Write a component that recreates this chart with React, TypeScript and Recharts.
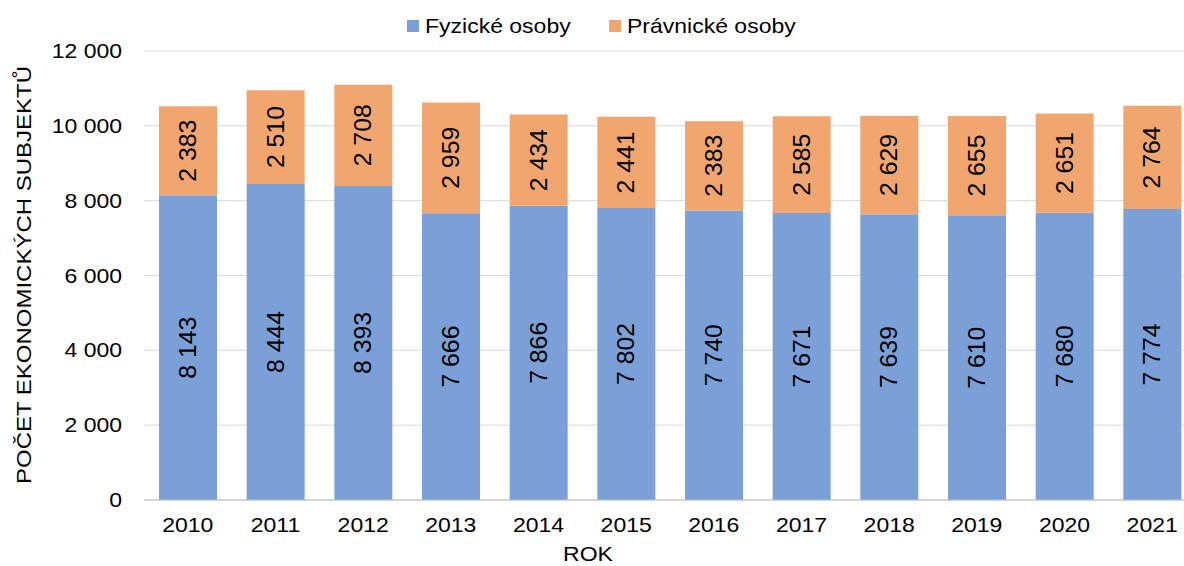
import { BarChart, Bar, XAxis, YAxis, CartesianGrid, Legend, LabelList } from "recharts"

const years = ["2010", "2011", "2012", "2013", "2014", "2015", "2016", "2017", "2018", "2019", "2020", "2021"]
const fyzicke = [8143, 8444, 8393, 7666, 7866, 7802, 7740, 7671, 7639, 7610, 7680, 7774]
const pravnicke = [2383, 2510, 2708, 2959, 2434, 2441, 2383, 2585, 2629, 2655, 2651, 2764]
const yTicks = [0, 2000, 4000, 6000, 8000, 10000, 12000]

const rows = years.map((rok, i) => ({ rok, fyzicke: fyzicke[i], pravnicke: pravnicke[i] }))

const BLUE = "#7B9FD7"
const ORANGE = "#F1A670"
const FONT = "Arial, 'Liberation Sans', sans-serif"
const SX = 1.15 // the source picture is stretched sideways a bit

const fmt = (v: number) => String(v).replace(/\B(?=(\d{3})+(?!\d))/g, " ")

function SText({ x, y, anchor = "middle", children }: any) {
  return (
    <text transform={`translate(${x},${y}) scale(${SX},1)`} textAnchor={anchor} fontFamily={FONT} fontSize={20} fill="#000">
      {children}
    </text>
  )
}

const YTick = ({ x, y, payload }: any) => (
  <SText x={x} y={y + 7} anchor="end">{fmt(payload.value)}</SText>
)

const XTick = ({ x, y, payload }: any) => (
  <SText x={x} y={y + 32}>{payload.value}</SText>
)

// labels inside the bars read bottom-to-top and are a bit larger
const BarLabel = ({ x, y, width, height, value }: any) => {
  const cx = Number(x) + Number(width) / 2
  const cy = Number(y) + Number(height) / 2
  return (
    <text
      transform={`translate(${cx},${cy}) scale(1.15,1.24) rotate(-90)`}
      y={7}
      textAnchor="middle"
      fontFamily={FONT}
      fontSize={20}
      fill="#000"
    >
      {fmt(value)}
    </text>
  )
}

const legendX = [407, 609]

const LegendBox = ({ payload }: any) => (
  <svg width={1196} height={40}>
    {(payload || []).map((p: any, i: number) => (
      <g key={p.value}>
        <rect x={legendX[i]} y={20} width={12} height={12} fill={p.color} />
        <SText x={legendX[i] + 18} y={32.5} anchor="start">{p.value}</SText>
      </g>
    ))}
  </svg>
)

export default function App() {
  return (
    <div style={{ position: "fixed", left: 0, top: 0, width: 1184, height: 566, overflow: "hidden", background: "#fff" }}>
      <BarChart width={1196} height={566} data={rows} margin={{ top: 51, right: 0, bottom: 0, left: 0 }}>
        <CartesianGrid vertical={false} stroke="#d9d9d9" />
        <XAxis
          dataKey="rok"
          height={66}
          tickLine={false}
          tickSize={0}
          tickMargin={0}
          stroke="#bfbfbf"
          tick={<XTick />}
          label={{
            content: () => <SText x={588} y={561}>ROK</SText>,
          }}
        />
        <YAxis
          width={144}
          domain={[0, 12000]}
          ticks={yTicks}
          axisLine={false}
          tickLine={false}
          tickSize={0}
          tickMargin={22}
          tick={<YTick />}
          label={{
            content: () => (
              <text
                transform="translate(31,275) rotate(-90) scale(1.2,1)"
                textAnchor="middle"
                fontFamily={FONT}
                fontSize={20}
                fill="#000"
              >
                POČET EKONOMICKÝCH SUBJEKTŮ
              </text>
            ),
          }}
        />
        <Legend
          verticalAlign="middle"
          align="center"
          wrapperStyle={{ top: 0, left: 0, width: 1196, height: 40 }}
          content={<LegendBox />}
        />
        <Bar dataKey="fyzicke" name="Fyzické osoby" stackId="a" fill={BLUE} barSize={58} isAnimationActive={false}>
          <LabelList dataKey="fyzicke" content={<BarLabel />} />
        </Bar>
        <Bar dataKey="pravnicke" name="Právnické osoby" stackId="a" fill={ORANGE} barSize={58} isAnimationActive={false}>
          <LabelList dataKey="pravnicke" content={<BarLabel />} />
        </Bar>
      </BarChart>
    </div>
  )
}
